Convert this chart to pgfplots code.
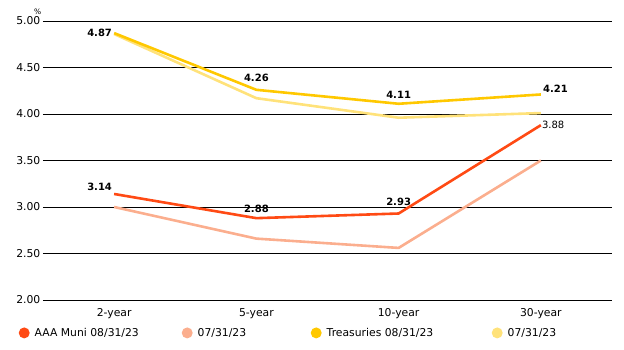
\documentclass[border=0pt]{standalone}
\usepackage{fontspec}
\setmainfont{DejaVu Sans}
\usepackage{pgfplots}
\pgfplotsset{compat=1.18}
\definecolor{muni}{HTML}{FF4A14}
\definecolor{munil}{HTML}{FBAE8E}
\definecolor{tre}{HTML}{FFC800}
\definecolor{trel}{HTML}{FFE27A}
\begin{document}
\fontsize{10}{12}\selectfont
\begin{tikzpicture}
\begin{axis}[
  scale only axis, width=569pt, height=279pt,
  xmin=-0.5, xmax=3.5, ymin=2, ymax=5,
  axis line style={draw=none},
  tick style={draw=none},
  ymajorgrids, grid style={black, line width=0.8pt},
  xtick={0,1,2,3}, xticklabels={2-year,5-year,10-year,30-year},
  ytick={2,2.5,3,3.5,4,4.5,5},
  /pgf/number format/fixed, /pgf/number format/fixed zerofill, /pgf/number format/precision=2,
  /pgf/number format/assume math mode=true,
  ticklabel style={font=\fontsize{10.8}{12}\selectfont},
  yticklabel style={inner sep=0pt, xshift=-2.5pt},
  xticklabel style={inner sep=0pt, yshift=-8pt},
  clip=false,
]
\addplot[munil, line width=2.6pt] coordinates {(0,3.00) (1,2.66) (2,2.56) (3,3.50)};
\addplot[muni, line width=2.6pt] coordinates {(0,3.14) (1,2.88) (2,2.93) (3,3.88)};
\addplot[trel, line width=2.6pt] coordinates {(0,4.86) (1,4.17) (2,3.96) (3,4.01)};
\addplot[tre, line width=2.6pt] coordinates {(0,4.87) (1,4.26) (2,4.11) (3,4.21)};
\node[anchor=south west, inner sep=0pt, font=\fontsize{7.5}{8}\selectfont] at (rel axis cs:0,1) [xshift=-9pt, yshift=6pt] {\%};
\node[anchor=east, inner sep=0pt, font=\bfseries] at (axis cs:0,4.87) [xshift=-2pt] {4.87};
\node[anchor=south east, inner sep=0pt, font=\bfseries] at (axis cs:0,3.14) [xshift=-2pt, yshift=3pt] {3.14};
\node[anchor=south, inner sep=0pt, font=\bfseries] at (axis cs:1,4.26) [yshift=8pt] {4.26};
\node[anchor=south, inner sep=0pt, font=\bfseries] at (axis cs:1,2.88) [yshift=5pt] {2.88};
\node[anchor=south, inner sep=0pt, font=\bfseries] at (axis cs:2,4.11) [yshift=5pt] {4.11};
\node[anchor=south, inner sep=0pt, font=\bfseries] at (axis cs:2,2.93) [yshift=8pt] {2.93};
\node[anchor=south west, inner sep=0pt, font=\bfseries] at (axis cs:3,4.21) [xshift=2pt, yshift=2pt] {4.21};
\node[anchor=west, inner sep=0pt] at (axis cs:3,3.88) [xshift=1pt] {3.88};
\end{axis}
\begin{axis}[
  scale only axis, width=569pt, height=279pt, hide axis,
  xmin=-0.5, xmax=3.5, ymin=2, ymax=5,
  legend columns=4,
  legend style={draw=none, fill=none, inner sep=0pt, at={(-0.043,-0.118)}, anchor=west,
    nodes={inner sep=0pt, anchor=west, font=\fontsize{10.8}{12}\selectfont},
    /tikz/every odd column/.append style={column sep=5pt},
    /tikz/every even column/.append style={column sep=0pt}},
  legend image code/.code={\fill[#1,draw=none] (5.5pt,0pt) circle (5.5pt);},
]
\addlegendimage{muni}
\addlegendentry{\makebox[147pt][l]{AAA Muni 08/31/23}}
\addlegendimage{munil}
\addlegendentry{\makebox[113pt][l]{07/31/23}}
\addlegendimage{tre}
\addlegendentry{\makebox[165pt][l]{Treasuries 08/31/23}}
\addlegendimage{trel}
\addlegendentry{07/31/23}
\end{axis}
\pgfresetboundingbox
\useasboundingbox ([xshift=-43pt,yshift=-50pt]current axis.south west) rectangle ++(624pt,350pt);
\end{tikzpicture}
\end{document}
